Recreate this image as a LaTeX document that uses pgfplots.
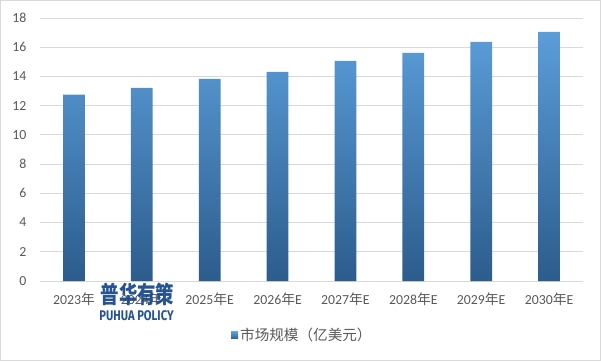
\documentclass[border=0pt]{standalone}
\usepackage{pgfplots}
\pgfplotsset{compat=1.18}
\usepackage{graphicx}
\usepackage{fontspec}
\setmainfont{Carlito}
\newfontfamily\cjk{Noto Sans CJK SC}
\newfontfamily\wmfont{Fira Sans}
\definecolor{gridc}{RGB}{217,217,217}
\definecolor{txt}{RGB}{89,89,89}
\definecolor{bartop}{RGB}{91,157,217}
\definecolor{barbot}{RGB}{44,92,140}
\definecolor{wm}{RGB}{26,74,140}
\newcommand{\nian}{{\cjk 年}}
\begin{document}
\begin{tikzpicture}[x=1pt,y=1pt]
\draw[gridc, line width=1pt] (0.5,0.5) rectangle (600.5,360.5);
\begin{axis}[
  at={(40pt,80pt)}, anchor=south west,
  scale only axis, width=543pt, height=263pt,
  xmin=-0.5, xmax=7.5, ymin=0, ymax=18,
  ytick={0,2,...,18},
  xtick={0,...,7},
  xticklabels={2023\nian,2024\nian,2025\nian E,2026\nian E,2027\nian E,2028\nian E,2029\nian E,2030\nian E},
  axis line style={draw=none},
  tick style={draw=none},
  major tick length=0pt,
  ymajorgrids,
  grid style={gridc, line width=0.8pt},
  /pgf/number format/assume math mode=true,
  ticklabel style={font=\fontsize{13.8}{16}\selectfont, text=txt},
  yticklabel style={xshift=-10pt},
  xticklabel style={yshift=-8pt},
  legend style={at={(0.3517,-0.207)}, anchor=west, draw=none, fill=none, inner sep=0pt,
    font=\cjk\fontsize{14.6}{16}\selectfont, text=txt},
  legend image code/.code={\fill[bartop!65!barbot] (0pt,-3.5pt) rectangle (7pt,3.5pt);},
]
\addplot[ybar, bar width=0.32, draw=none, top color=bartop, bottom color=barbot]
  coordinates {(0,12.75) (1,13.22) (2,13.84) (3,14.32) (4,15.07) (5,15.62) (6,16.37) (7,17.05)};
\addlegendentry{市场规模（亿美元）}
\end{axis}
\node[text=wm, opacity=0.95] at (137.5,67) {\scalebox{0.97}[1.25]{\cjk\bfseries\fontsize{19}{19}\selectfont 普华有策}};
\node[text=wm, opacity=0.95] at (136.5,45) {\scalebox{0.8}[1]{\wmfont\bfseries\fontsize{14}{14}\selectfont PUHUA POLICY}};
\end{tikzpicture}
\end{document}
